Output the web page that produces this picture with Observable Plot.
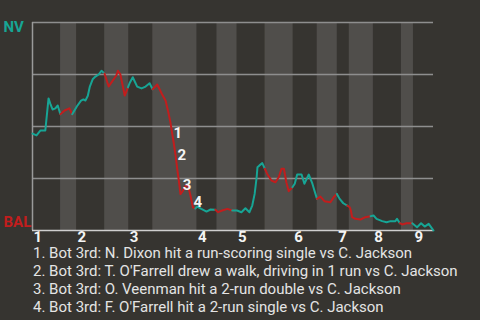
<!DOCTYPE html>
<html>
<head>
<meta charset="utf-8">
<script src="https://cdn.jsdelivr.net/npm/d3@7"></script>
<script src="https://cdn.jsdelivr.net/npm/@observablehq/plot@0.6"></script>
<style>
  html, body { margin: 0; padding: 0; background: #363430; }
  #chart { width: 480px; height: 246px; }
  #chart svg { overflow: visible; }
  #caption { font-family: Roboto, sans-serif; font-size: 15px; line-height: 18px; color: #e4e4e4; padding-left: 33px; margin-top: -2px; white-space: nowrap; }
</style>
</head>
<body>
<div id="chart"></div>
<div id="caption"></div>
<script>
// Play index (0-100) and NV win probability after each play
const plays = [0,1.0,2.0,3.2,4.0,4.5,5.0,5.7,6.3,6.95,8.0,9.2,9.9,11.05,12.1,12.7,13.2,13.8,14.3,15.0,15.7,16.5,17.2,17.95,19.0,19.7,20.9,21.3,21.9,23.0,23.8,24.3,25.0,26.1,27.2,28.2,29.2,29.95,31.1,32.3,33.2,33.8,34.4,35.2,35.7,36.1,36.5,36.9,37.5,38.2,38.8,39.4,40.0,40.6,41.1,42.1,43.4,44.4,45.6,46.3,47.3,48.6,49.8,51.0,52.1,53.1,54.1,54.8,55.4,55.9,56.1,56.6,57.3,57.95,58.5,59.6,60.6,61.4,62.1,62.7,63.3,63.9,64.8,65.4,66.0,67.1,67.8,68.9,69.8,70.3,70.95,71.8,72.8,74.3,75.1,75.9,76.6,77.5,78.5,79.1,79.4,79.7,80.5,81.8,83.0,84.3,85.05,85.8,87.2,88.3,89.3,90.5,90.9,91.6,92.2,93.3,94.7,95.9,96.9,97.8,98.8,99.7,100];
const probs = [0.466,0.457,0.481,0.481,0.635,0.606,0.582,0.587,0.601,0.559,0.577,0.587,0.559,0.596,0.624,0.630,0.625,0.648,0.692,0.727,0.740,0.750,0.768,0.755,0.692,0.712,0.745,0.768,0.751,0.649,0.688,0.712,0.737,0.692,0.683,0.692,0.708,0.679,0.702,0.655,0.624,0.575,0.519,0.423,0.359,0.295,0.239,0.175,0.191,0.215,0.215,0.167,0.111,0.106,0.115,0.104,0.091,0.101,0.100,0.088,0.096,0.104,0.096,0.096,0.088,0.107,0.088,0.120,0.176,0.256,0.304,0.313,0.324,0.297,0.273,0.240,0.232,0.256,0.297,0.297,0.232,0.189,0.208,0.225,0.269,0.269,0.225,0.269,0.225,0.192,0.152,0.163,0.141,0.136,0.160,0.176,0.152,0.131,0.120,0.112,0.096,0.064,0.056,0.053,0.064,0.069,0.072,0.056,0.045,0.040,0.045,0.045,0.056,0.035,0.029,0.035,0.035,0.016,0.035,0.019,0.032,0.008,0.0];

// Half-inning boundaries (play index)
const halfStarts = [0,7,11,18,24,30,41,46,51,58,65,71,76,79,85,92,95,100];
const innings = ["1","2","3","4","5","6","7","8","9"];

// Key events
const eventPlay = [34.9,35.9,37.2,39.9];
const eventProb = [0.428,0.322,0.180,0.096];
const eventLabel = ["1","2","3","4"];
const captions = [
  "1. Bot 3rd: N. Dixon hit a run-scoring single vs C. Jackson",
  "2. Bot 3rd: T. O'Farrell drew a walk, driving in 1 run vs C. Jackson",
  "3. Bot 3rd: O. Veenman hit a 2-run double vs C. Jackson",
  "4. Bot 3rd: F. O'Farrell hit a 2-run single vs C. Jackson"
];
const teams = ["NV", "BAL"];

const TEAL = "#17a595", RED = "#c21d1d";

// Build point table with half-inning membership
const pts = plays.map((p, i) => ({p, v: probs[i]}));
const lastHalf = halfStarts.length - 2;
const halfOf = p => {
  for (let h = lastHalf; h >= 0; h--) if (p >= halfStarts[h]) return Math.min(h, lastHalf);
  return 0;
};
const segs = [];
let prev = null;
for (let h = 0; h <= lastHalf; h++) {
  const inH = pts.filter(d => halfOf(d.p) === h);
  if (!inH.length) continue;
  const seg = prev ? [prev, ...inH] : inH;
  seg.forEach(d => segs.push({p: d.p, v: d.v, h, c: h % 2 === 0 ? TEAL : RED}));
  prev = inH[inH.length - 1];
}

const bands = [];
for (let h = 1; h <= lastHalf; h += 2) bands.push({x1: halfStarts[h], x2: halfStarts[h + 1]});
const innData = innings.map((t, i) => ({x: halfStarts[2 * i], t}));
const evData = eventLabel.map((t, i) => ({x: eventPlay[i], y: eventProb[i], t}));

const chart = Plot.plot({
  width: 480,
  height: 246,
  marginLeft: 32,
  marginRight: 47,
  marginTop: 22,
  marginBottom: 16,
  style: {background: "transparent", fontFamily: "Roboto, sans-serif", overflow: "visible"},
  x: {domain: [0, 100], axis: null},
  y: {domain: [0, 1], axis: null},
  marks: [
    Plot.rect(bands, {x1: "x1", x2: "x2", y1: 0, y2: 1, fill: "#504e4b"}),
    Plot.ruleY([0.25, 0.5, 0.75, 1], {stroke: "#8e8e8e", strokeWidth: 1.5}),
    Plot.ruleX([0], {y1: 0, y2: 1, stroke: "#9a9a9a", strokeWidth: 1.5}),
    Plot.ruleY([0], {stroke: "#cfcfcf", strokeWidth: 1.5}),
    Plot.line(segs, {x: "p", y: "v", z: "h", stroke: "c", strokeWidth: 2, curve: "linear"}),
    Plot.text(evData, {x: "x", y: "y", text: "t", textAnchor: "start", dx: 1, dy: -8, fill: "#f4f4f4", fontSize: 15, fontWeight: "bold"}),
    Plot.text(innData, {x: "x", y: 0, text: "t", textAnchor: "start", lineAnchor: "top", dx: 1, dy: 1, fill: "#f4f4f4", fontSize: 15, fontWeight: "bold"}),
    Plot.text([teams[0]], {x: 0, y: 1, text: d => d, textAnchor: "start", lineAnchor: "top", dx: -29, dy: -1, fill: TEAL, fontSize: 15, fontWeight: "bold"}),
    Plot.text([teams[1]], {x: 0, y: 0, text: d => d, textAnchor: "start", lineAnchor: "bottom", dx: -29, dy: -4, fill: RED, fontSize: 15, fontWeight: "bold"})
  ]
});
document.getElementById("chart").appendChild(chart);
const cap = document.getElementById("caption");
captions.forEach(c => { const d = document.createElement("div"); d.textContent = c; cap.appendChild(d); });
</script>
</body>
</html>
